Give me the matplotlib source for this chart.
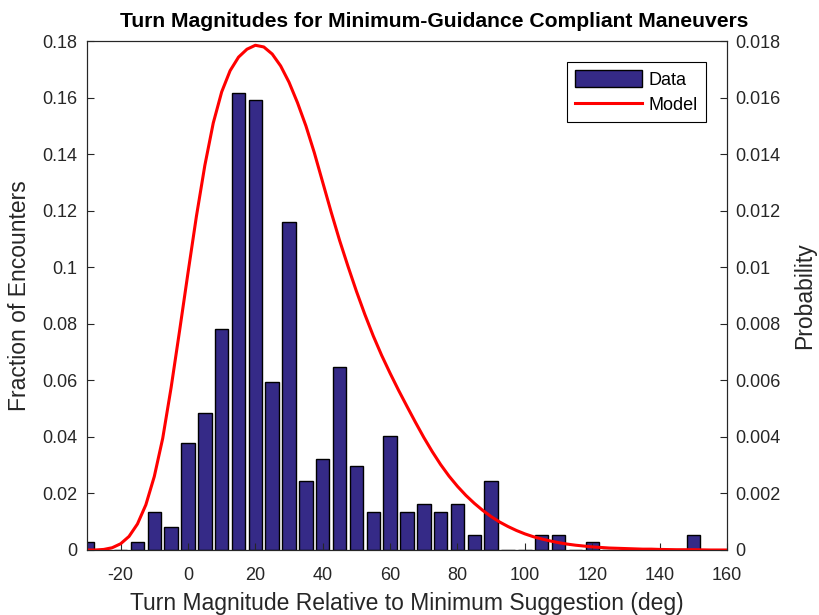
import numpy as np
import matplotlib.pyplot as plt

plt.rcParams['font.family'] = ['Liberation Sans', 'DejaVu Sans']
plt.rcParams['axes.unicode_minus'] = False

# histogram bins (deg) and fraction of encounters
bin_centers = list(range(-30, 155, 5))
fractions = [0.0027, 0.0, 0.0, 0.0027, 0.0135, 0.0081, 0.0378, 0.0486,
             0.0782, 0.1617, 0.1590, 0.0593, 0.1159, 0.0243, 0.0323, 0.0647,
             0.0296, 0.0135, 0.0404, 0.0135, 0.0162, 0.0135, 0.0162, 0.0054,
             0.0243, 0.0, 0.0, 0.0054, 0.0054, 0.0, 0.0027, 0.0,
             0.0, 0.0, 0.0, 0.0, 0.0054]

# model curve (probability, right axis)
model_x = [-30, -27.5, -25, -22.5, -20, -17.5, -15, -12.5, -10, -7.5, -5, -2.5,
           0, 2.5, 5, 7.5, 10, 12.5, 15, 17.5, 20, 22.5, 25, 27.5, 30, 32.5,
           35, 37.5, 40, 42.5, 45, 47.5, 50, 52.5, 55, 57.5, 60, 62.5, 65,
           67.5, 70, 72.5, 75, 77.5, 80, 82.5, 85, 87.5, 90, 92.5, 95, 97.5,
           100, 102.5, 105, 107.5, 110, 112.5, 115, 117.5, 120, 122.5, 125,
           127.5, 130, 132.5, 135, 137.5, 140, 145, 150, 155, 160]
model_p = [0.0, 0.0, 0.00002, 0.00008, 0.00022, 0.00048, 0.00092, 0.00160,
           0.00260, 0.00395, 0.00575, 0.00775, 0.00980, 0.01180, 0.01360,
           0.01510, 0.01620, 0.01695, 0.01743, 0.01771, 0.01785, 0.01779,
           0.01754, 0.01712, 0.01654, 0.01582, 0.01500, 0.01405, 0.01300,
           0.01195, 0.01095, 0.01003, 0.00915, 0.00833, 0.00757, 0.00688,
           0.00625, 0.00565, 0.00508, 0.00452, 0.00398, 0.00348, 0.00302,
           0.00261, 0.00225, 0.00193, 0.00165, 0.00140, 0.00118, 0.00099,
           0.00083, 0.00069, 0.00057, 0.00047, 0.00039, 0.00032, 0.00026,
           0.00021, 0.00017, 0.00014, 0.00011, 0.00009, 0.00007, 0.00006,
           0.00005, 0.00004, 0.00003, 0.00003, 0.00002, 0.00001, 0.00001,
           0.0, 0.0]

grey = '#262626'

fig = plt.figure(figsize=(8.2, 6.15), dpi=100)
ax = fig.add_axes([0.106, 0.1057, 0.7806, 0.8276])
ax2 = ax.twinx()

bars = ax.bar(bin_centers, fractions, width=4, color='#352A87',
              edgecolor='black', linewidth=1, label='Data')
line, = ax2.plot(model_x, model_p, color='#FF0000', linewidth=2.2,
                 solid_joinstyle='round', label='Model')

ax.set_xlim(-30, 160)
ax.set_ylim(0, 0.18)
ax2.set_ylim(0, 0.018)
ax.set_xticks(np.arange(-20, 161, 20))
ax.set_yticks(np.arange(0, 0.181, 0.02))
ax.set_yticklabels(['0'] + ['%g' % v for v in np.arange(0.02, 0.181, 0.02)])
ax2.set_yticks(np.arange(0, 0.0181, 0.002))
ax2.set_yticklabels(['0'] + ['%g' % v for v in np.arange(0.002, 0.0181, 0.002)])

for a in (ax, ax2):
    a.tick_params(direction='in', length=5, width=0.8, colors=grey,
                  labelsize=13)
    for s in a.spines.values():
        s.set_color(grey)
        s.set_linewidth(0.8)
ax.tick_params(axis='x', pad=12)
ax.tick_params(axis='y', pad=7)
ax2.tick_params(axis='y', pad=6)

ax.set_xlabel('Turn Magnitude Relative to Minimum Suggestion (deg)',
              fontsize=16.5, color=grey, labelpad=6)
ax.set_ylabel('Fraction of Encounters', fontsize=16.5, color=grey, labelpad=8)
ax2.set_ylabel('Probability', fontsize=16.5, color=grey, labelpad=9)
ax.set_title('Turn Magnitudes for Minimum-Guidance Compliant Maneuvers',
             fontsize=15.2, fontweight='bold', pad=10, x=0.542)

leg = ax2.legend([bars, line], ['Data', 'Model'], loc='upper right',
                 bbox_to_anchor=(0.967, 0.9587), fontsize=13, fancybox=False,
                 edgecolor='black', framealpha=1, handlelength=3.7,
                 handleheight=1.1, borderpad=0.45, labelspacing=0.35,
                 handletextpad=0.35, borderaxespad=0)
leg.get_frame().set_linewidth(0.8)

fig.savefig('out.png', dpi=100)
